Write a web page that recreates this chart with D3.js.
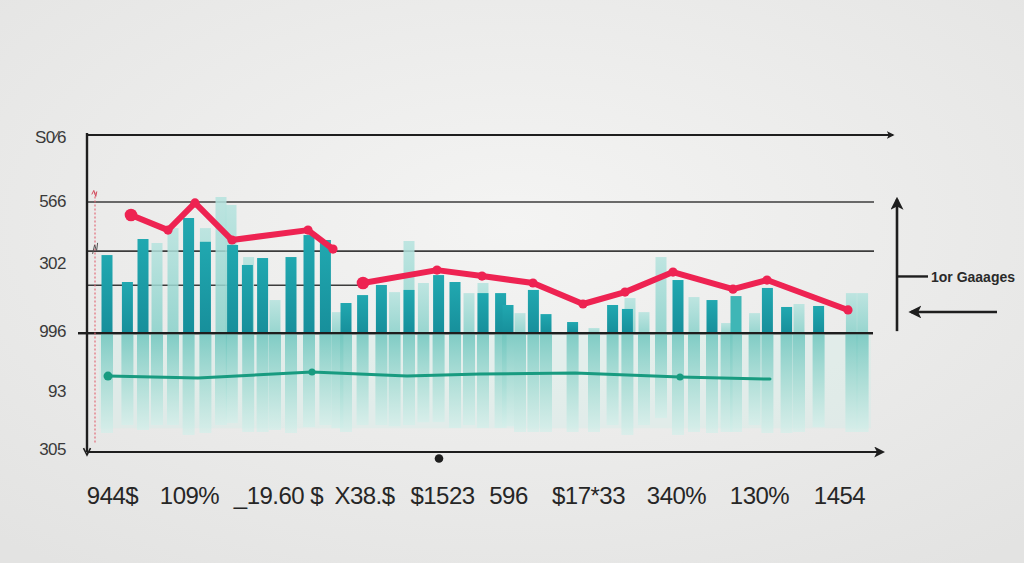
<!DOCTYPE html>
<html><head><meta charset="utf-8">
<script src="https://cdn.jsdelivr.net/npm/d3@7"></script>
<style>html,body{margin:0;padding:0;background:#ececec;overflow:hidden}</style>
</head><body><svg id="c" width="1024" height="563"></svg>
<script>
// ---------- data ----------
const darkPos=[5,10.1,14,25.4,29.6,36.4,40.1,43.9,51,55.5,59.6,64.75,68.9,73.6,80.5,87.9,92,99,103.4,105.25,111.6,114.75,121.4,131.4,135.1,147.75,156.25,170.1,174.9,182.9];
const darkTop=[39.4,25.8,47.5,58.1,46.1,44.5,34.4,37.9,38.4,49.5,47.0,15.2,19.2,24.3,21.8,29.3,25.8,20.2,20.2,14.2,21.8,9.6,5.6,14.2,12.2,26.8,16.7,22.8,13.2,13.7];
const lightPos=[17.5,21.5,29.6,33.5,36,40.4,47,62.6,76.9,80.5,84.1,95.5,99,108.25,126.75,135.75,139.25,143.5,151.75,159.9,166.9,178,191.1,193.9];
const lightTop=[45.5,53.0,53.0,68.7,64.7,38.4,16.7,10.6,20.7,46.5,25.3,20.2,25.3,10.1,2.6,17.7,10.6,38.4,18.2,5.1,10.1,14.7,20.2,20.2];
const midPos=[162.25];
const midTop=[18.7];
const reflPos=[5,10.1,14,17.5,21.5,25.4,29.6,33.5,36.2,40.3,43.9,47,51,55.5,59.6,62.6,64.75,68.9,73.6,76.9,80.5,84.1,87.9,92,95.5,99,103.4,105.25,108.25,111.6,114.75,121.4,126.75,131.4,135.1,139.25,143.5,147.75,151.75,156.25,159.9,162.25,166.9,170.1,174.9,178,182.9,191.1,193.9];
const reflLow=[-50.4,-46.4,-48.9,-46.4,-46.4,-51.4,-50.4,-46.4,-45.4,-49.9,-49.9,-48.9,-50.4,-47.4,-46.4,-48,-49.9,-46.4,-46.4,-47,-46.4,-45,-44.9,-47.9,-46.4,-47.9,-47.9,-47,-49.9,-49.9,-49.9,-49.9,-49.9,-46.4,-51.4,-46.4,-42.9,-51.4,-49.9,-50.4,-49.9,-49.9,-46.4,-50.4,-50.4,-49.9,-47.4,-49.9,-49.9];
const redA_x=[11,20.25,27,36.25,55.25,61.5];
const redA_y=[59.6,52.0,65.7,47.0,52.0,42.4];
const redB_x=[69,87.5,98.75,111.5,124,134.5,146.5,161.5,170,190.25];
const redB_y=[25.3,31.8,28.8,25.3,14.7,20.7,30.8,22.2,26.8,11.7];
const green_x=[5.25,27.75,56.25,80,98.25,122,148.25,170.75];
const green_y=[-21.7,-22.7,-19.6,-21.7,-20.6,-20.1,-22.2,-23.2];
const gridVals=[100,66.2,41.4,24.2,0];
const gridEnd=[201.5,196.75,196.75,69,196.5];
const yTickVals=[99,66.7,35.4,1,-29.3,-58.6];
const yTickLabels=["S0\u20446","566","302","996","93","305"];
const xLabelPos=[6.25,25.5,47.75,69.25,88.75,105.25,125.25,147.25,168,188];
const xLabels=["944$","109%","_19.60 $","X38.$","$1523","596","$17*33","340%","130%","1454"];
const legendLabel="1or Gaaages";

// ---------- setup ----------
const svg=d3.select("#c");
const x=d3.scaleLinear().domain([0,200]).range([87,887]);
const y=d3.scaleLinear().domain([-60,100]).range([452,135]);
const defs=svg.append("defs");
const bg=defs.append("radialGradient").attr("id","bg").attr("cx","50%").attr("cy","40%").attr("r","75%");
bg.append("stop").attr("offset","0%").attr("stop-color","#f4f4f3");
bg.append("stop").attr("offset","100%").attr("stop-color","#e3e3e2");
const gd=defs.append("linearGradient").attr("id","gDark").attr("x1",0).attr("x2",0).attr("y1",0).attr("y2",1);
gd.append("stop").attr("offset","0%").attr("stop-color","#21a8b0");
gd.append("stop").attr("offset","100%").attr("stop-color","#178f9b");
const gl=defs.append("linearGradient").attr("id","gLight").attr("x1",0).attr("x2",0).attr("y1",0).attr("y2",1);
gl.append("stop").attr("offset","0%").attr("stop-color","#b5e3de");
gl.append("stop").attr("offset","100%").attr("stop-color","#88d1ca");
const gr=defs.append("linearGradient").attr("id","gRefl").attr("x1",0).attr("x2",0).attr("y1",0).attr("y2",1);
gr.append("stop").attr("offset","0%").attr("stop-color","#6fc6be").attr("stop-opacity",0.85);
gr.append("stop").attr("offset","55%").attr("stop-color","#a4dcd4").attr("stop-opacity",0.75);
gr.append("stop").attr("offset","100%").attr("stop-color","#d3efea").attr("stop-opacity",0.7);
function marker(id,color,size){
  defs.append("marker").attr("id",id).attr("viewBox","0 0 10 10").attr("refX",8).attr("refY",5)
    .attr("markerWidth",size).attr("markerHeight",size).attr("orient","auto-start-reverse")
    .append("path").attr("d","M0,0 L10,5 L0,10 L2.5,5 Z").attr("fill",color);
}
marker("arr","#1e1e1e",5);
marker("arrS","#1e1e1e",3.5);

svg.append("rect").attr("width",1024).attr("height",563).attr("fill","url(#bg)");

const bw=x(2.75)-x(0);
// soft mint band under baseline
svg.append("rect").attr("x",x(3)).attr("y",y(0)).attr("width",x(196)-x(3)).attr("height",y(-48)-y(0))
  .attr("fill","#cfeee8").attr("opacity",0.35);

// gridlines
svg.append("g").selectAll("line").data(gridVals).join("line")
  .attr("x1",(d,i)=>i===4?x(-2.25):x(0)).attr("x2",(d,i)=>x(gridEnd[i]))
  .attr("y1",d=>y(d)).attr("y2",d=>y(d))
  .attr("stroke",(d,i)=>(i===0||i===4)?"#1e1e1e":"#3c3c3c")
  .attr("stroke-width",(d,i)=>(i===0||i===4)?2.2:1.6)
  .attr("marker-end",(d,i)=>i===0?"url(#arrS)":null);

// reflections
svg.append("g").selectAll("rect").data(reflPos).join("rect")
  .attr("x",d=>x(d)-bw/2-0.5).attr("width",bw+1)
  .attr("y",y(0)+1).attr("height",(d,i)=>y(reflLow[i])-y(0)-1)
  .attr("fill","url(#gRefl)");

// light bars
svg.append("g").selectAll("rect").data(lightPos).join("rect")
  .attr("x",d=>x(d)-bw/2).attr("width",bw)
  .attr("y",(d,i)=>y(lightTop[i])).attr("height",(d,i)=>y(0)-y(lightTop[i]))
  .attr("fill","url(#gLight)").attr("opacity",0.85);
// mid bars
svg.append("g").selectAll("rect").data(midPos).join("rect")
  .attr("x",d=>x(d)-bw/2).attr("width",bw)
  .attr("y",(d,i)=>y(midTop[i])).attr("height",(d,i)=>y(0)-y(midTop[i]))
  .attr("fill","#3fb6b6");
// dark bars
svg.append("g").selectAll("rect").data(darkPos).join("rect")
  .attr("x",d=>x(d)-bw/2).attr("width",bw)
  .attr("y",(d,i)=>y(darkTop[i])).attr("height",(d,i)=>y(0)-y(darkTop[i]))
  .attr("fill","url(#gDark)");

// baseline redraw over bars
svg.append("line").attr("x1",x(-2.25)).attr("x2",x(gridEnd[4])).attr("y1",y(0)).attr("y2",y(0))
  .attr("stroke","#1e1e1e").attr("stroke-width",2.2);

// red dashed marker line
svg.append("line").attr("x1",x(2)).attr("x2",x(2)).attr("y1",y(71)).attr("y2",y(-55.5))
  .attr("stroke","#e0606e").attr("stroke-width",1.1).attr("stroke-dasharray","2,2");
svg.append("path").attr("d",`M${x(1.2)},${y(70)} l2,-4 l2,6 l1,-5`).attr("fill","none").attr("stroke","#d24a5c").attr("stroke-width",1);
svg.append("path").attr("d",`M${x(1.4)},${y(40)} l2,-9 l2,6 l1,-8`).attr("fill","none").attr("stroke","#555").attr("stroke-width",1);

// green line
const line=d3.line().x(d=>x(d[0])).y(d=>y(d[1]));
const gpts=green_x.map((d,i)=>[d,green_y[i]]);
svg.append("path").attr("d",line(gpts)).attr("fill","none").attr("stroke","#189b80").attr("stroke-width",3).attr("stroke-linecap","round");
svg.append("g").selectAll("circle").data([0,2,6]).join("circle")
  .attr("cx",i=>x(green_x[i])).attr("cy",i=>y(green_y[i])).attr("r",(i)=>i===0?4.5:3.5).attr("fill","#189b80");

// red lines
[[redA_x,redA_y],[redB_x,redB_y]].forEach(([xs,ys])=>{
  const pts=xs.map((d,i)=>[d,ys[i]]);
  svg.append("path").attr("d",line(pts)).attr("fill","none").attr("stroke","#ee2352")
    .attr("stroke-width",6).attr("stroke-linejoin","round").attr("stroke-linecap","round");
  svg.append("g").selectAll("circle").data(pts).join("circle")
    .attr("cx",d=>x(d[0])).attr("cy",d=>y(d[1])).attr("r",(d,i)=>i===0?6.3:4.6).attr("fill","#ee2352");
});

// axes lines
svg.append("line").attr("x1",x(0)).attr("x2",x(0)).attr("y1",y(101)).attr("y2",y(-60))
  .attr("stroke","#1e1e1e").attr("stroke-width",2.4);
svg.append("path").attr("d",`M${x(0)-3.5},${y(-58)} L${x(0)},${y(-60)+3} L${x(0)+3.5},${y(-58)}`).attr("fill","none").attr("stroke","#1e1e1e").attr("stroke-width",1.6);
svg.append("line").attr("x1",x(0)).attr("x2",x(199)).attr("y1",y(-60)).attr("y2",y(-60))
  .attr("stroke","#1e1e1e").attr("stroke-width",2.2).attr("marker-end","url(#arr)");
svg.append("circle").attr("cx",x(88)).attr("cy",y(-63.3)).attr("r",4.3).attr("fill","#1e1e1e");

// y tick labels
const ya=svg.append("g").attr("transform",`translate(${x(-5.25)},0)`)
  .call(d3.axisLeft(y).tickValues(yTickVals).tickFormat((d,i)=>yTickLabels[i]).tickSize(0).tickPadding(0));
ya.select(".domain").remove();
ya.selectAll("text").attr("font-family","Liberation Sans, Arial, sans-serif").attr("font-size",17).attr("fill","#3a3a3a").attr("letter-spacing",-0.5);

// x labels
const xa=svg.append("g").attr("transform",`translate(0,${y(-77.5)})`)
  .call(d3.axisBottom(x).tickValues(xLabelPos).tickFormat((d,i)=>xLabels[i]).tickSize(0).tickPadding(0));
xa.select(".domain").remove();
xa.selectAll("text").attr("font-family","Liberation Sans, Arial, sans-serif").attr("font-size",24).attr("fill","#262626").attr("letter-spacing",-0.5);

// right annotation
const ax=x(202.5);
svg.append("line").attr("x1",ax).attr("x2",ax).attr("y1",y(1)).attr("y2",y(67.5))
  .attr("stroke","#1e1e1e").attr("stroke-width",2.6).attr("marker-end","url(#arr)");
svg.append("line").attr("x1",ax).attr("x2",x(210.25)).attr("y1",y(28.6)).attr("y2",y(28.6))
  .attr("stroke","#1e1e1e").attr("stroke-width",2.4);
svg.append("text").attr("x",x(211)).attr("y",y(28.6)).attr("dy","0.35em")
  .attr("font-family","Liberation Sans, Arial, sans-serif").attr("font-weight","bold").attr("font-size",15)
  .attr("fill","#2a2a2a").attr("textLength",84).attr("lengthAdjust","spacingAndGlyphs").text(legendLabel);
svg.append("line").attr("x1",x(227.5)).attr("x2",x(206)).attr("y1",y(10.7)).attr("y2",y(10.7))
  .attr("stroke","#1e1e1e").attr("stroke-width",2.6).attr("marker-end","url(#arr)");
</script></body></html>
